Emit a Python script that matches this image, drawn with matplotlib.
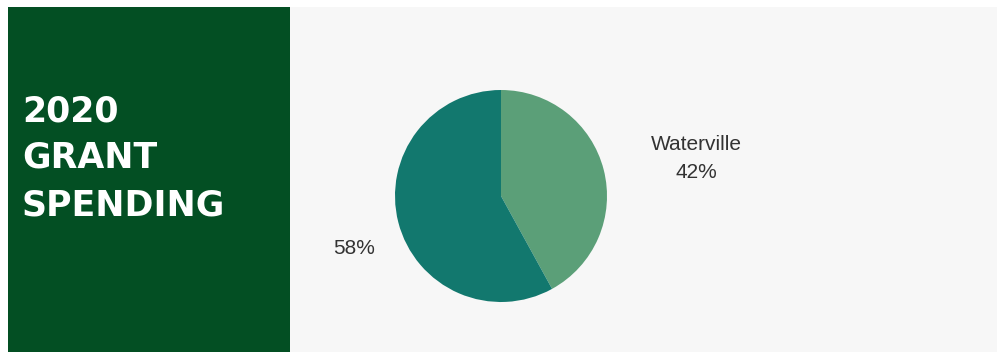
import matplotlib.pyplot as plt
from matplotlib.patches import Rectangle

# data
labels = ["Waterville", ""]
shares = [42, 58]
colors = ["#5b9f78", "#12786e"]
title_lines = ["2020", "GRANT", "SPENDING"]

W, H = 998, 352
fig = plt.figure(figsize=(W / 100, H / 100), dpi=100)
fig.patch.set_facecolor("white")

# background panels (figure pixel coords)
fig.patches.append(Rectangle((8 / W, 0), (997 - 8) / W, (H - 7) / H,
                             transform=fig.transFigure, facecolor="#f7f7f7",
                             edgecolor="none", zorder=-2))
fig.patches.append(Rectangle((8 / W, 0), (290 - 8) / W, (H - 7) / H,
                             transform=fig.transFigure, facecolor="#034f23",
                             edgecolor="none", zorder=-1))

for i, line in enumerate(title_lines):
    fig.text(22 / W, 1 - (111 + 47 * i) / H, line, color="white",
             fontsize=25, fontweight="bold", family="DejaVu Sans",
             ha="left", va="center", zorder=2)

# pie
cx, cy, r = 501, 196, 106
ax = fig.add_axes([(cx - r) / W, (H - cy - r) / H, 2 * r / W, 2 * r / H])
ax.set_zorder(3)
ax.set_facecolor("none")
wedges, _ = ax.pie(shares, colors=colors, startangle=90, counterclock=False,
                   radius=1, wedgeprops=dict(linewidth=0))
ax.set_xlim(-1, 1)
ax.set_ylim(-1, 1)
ax.set_aspect("equal")
ax.axis("off")

txt = dict(fontsize=15, color="#333333", family="Liberation Sans",
           ha="center", va="center")
ax.text(1.84, 0.35, f"{labels[0]}\n{shares[0]}%", linespacing=1.6, **txt)
ax.text(-1.39, -0.50, f"{shares[1]}%", **txt)

fig.savefig("out.png", dpi=100, facecolor="white")
